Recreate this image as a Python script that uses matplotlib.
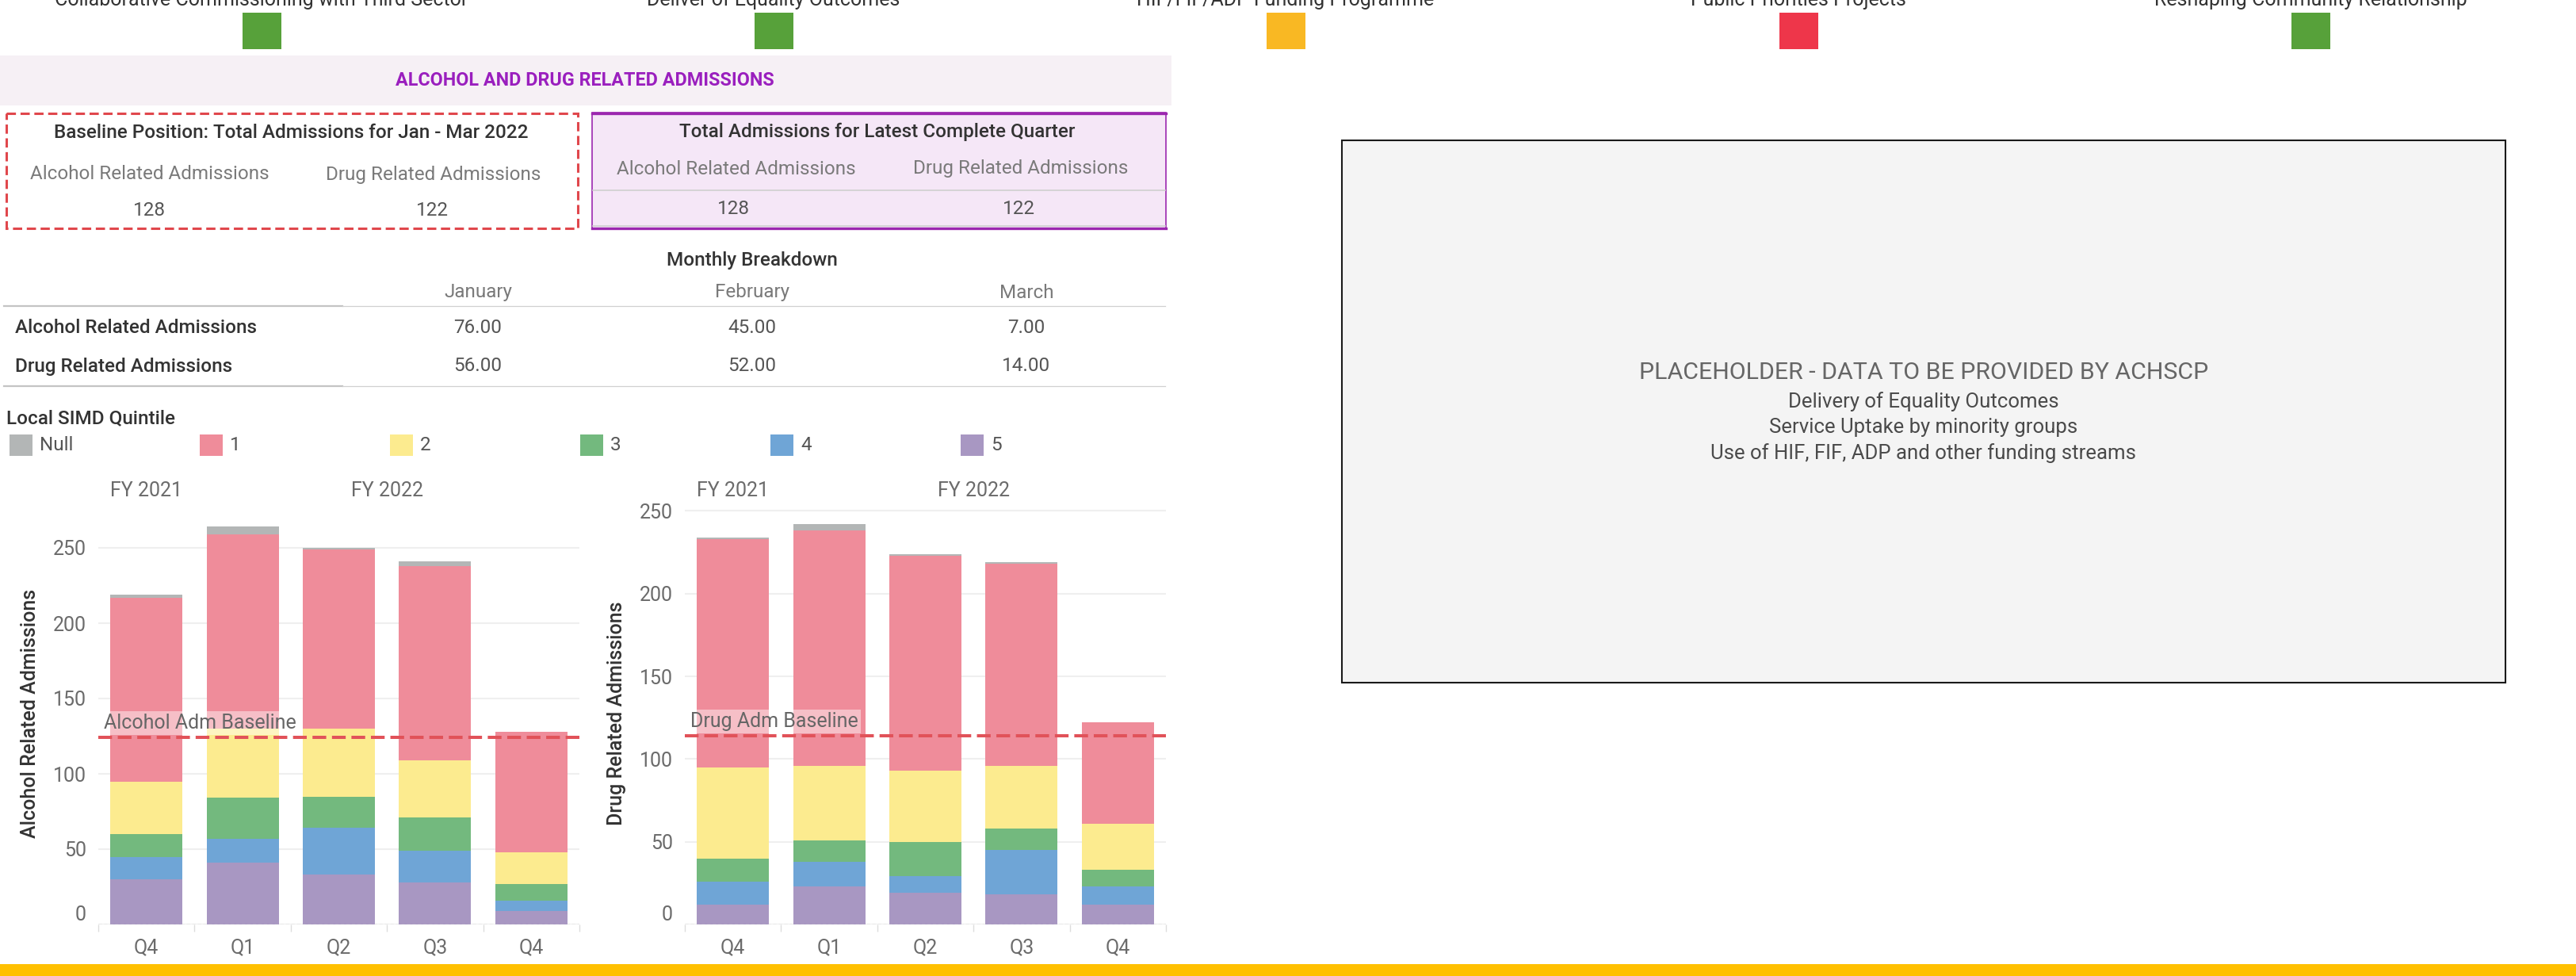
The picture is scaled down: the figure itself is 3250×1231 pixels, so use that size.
import numpy as np
import matplotlib
matplotlib.use("Agg")
import matplotlib.pyplot as plt
from matplotlib.patches import Rectangle

plt.rcParams['font.family'] = ['Roboto', 'DejaVu Sans']

# status tiles along the top
tile_labels = ["Collaborative Commissioning with Third Sector", "Deliver of Equality Outcomes",
               "HIF/FIF/ADP Funding Programme", "Public Priorities Projects",
               "Reshaping Community Relationship"]
tile_colors = ["#57A13A", "#57A13A", "#F9B823", "#EE364A", "#57A13A"]

# headline numbers
baseline_alcohol = 128
baseline_drug = 122
latest_alcohol = 128
latest_drug = 122

months = ["January", "February", "March"]
alcohol_monthly = [76, 45, 7]
drug_monthly = [56, 52, 14]

quarters = ["Q4", "Q1", "Q2", "Q3", "Q4"]
fiscal_years = ["FY 2021", "FY 2022"]
fy_quarters = [1, 4]

quintiles = ["Null", "1", "2", "3", "4", "5"]
quintile_colors = ["#B3B6B6", "#EF8C9A", "#FCEB8F", "#73B97E", "#6FA5D6", "#A897C2"]

# admissions per quarter by SIMD quintile
alcohol_null = [2, 5, 1, 3, 0]
alcohol_q1 = [122, 129, 119, 129, 80]
alcohol_q2 = [35, 46, 45, 38, 21]
alcohol_q3 = [15, 27, 21, 22, 11]
alcohol_q4 = [15, 16, 31, 21, 7]
alcohol_q5 = [30, 41, 33, 28, 9]
alcohol_baseline = 124

drug_null = [1, 4, 1, 1, 0]
drug_q1 = [138, 142, 130, 122, 61]
drug_q2 = [55, 45, 43, 38, 28]
drug_q3 = [14, 13, 21, 13, 10]
drug_q4 = [14, 15, 10, 27, 11]
drug_q5 = [12, 23, 19, 18, 12]
drug_baseline = 114

DARK = "#333333"
GREY = "#6b6b6b"
LIGHT = "#7a7a7a"
FS = 17.5

W, H = 3250, 1231
fig = plt.figure(figsize=(W / 100, H / 100), dpi=100)
bg = fig.add_axes([0, 0, 1, 1])
bg.set_xlim(0, W)
bg.set_ylim(H, 0)
bg.axis('off')


def px_axes(x0, y0, x1, y1):
    return fig.add_axes([x0 / W, 1 - y1 / H, (x1 - x0) / W, (y1 - y0) / H])


# top tiles (labels sit above the visible area, as in the dashboard)
tile_x = [330, 976, 1622, 2269, 2915]
for cx, lab, col in zip(tile_x, tile_labels, tile_colors):
    bg.text(cx, 7, lab, ha='center', va='baseline', fontsize=18, color=DARK)
    bg.add_patch(Rectangle((cx - 24.5, 16), 49, 46, fc=col, ec='none'))

# section header
bg.add_patch(Rectangle((0, 70), 1478, 63, fc='#F6F0F5', ec='none'))
bg.text(738, 101, "ALCOHOL AND DRUG RELATED ADMISSIONS", ha='center', va='center',
        fontsize=16.8, fontweight='bold', color='#9A1FBE')

# baseline box
bg.add_patch(Rectangle((8, 143), 721, 145, fill=False, ec='#E0474C', lw=2.2,
                       ls=(0, (3.8, 1.9))))
bg.text(367, 167, "Baseline Position: Total Admissions for Jan - Mar 2022", ha='center',
        va='center', fontsize=FS, color=DARK, fontweight='medium')
bg.text(189, 220, "Alcohol Related Admissions", ha='center', va='center', fontsize=FS, color=LIGHT)
bg.text(547, 220, "Drug Related Admissions", ha='center', va='center', fontsize=FS, color=LIGHT)
bg.text(188, 266, str(baseline_alcohol), ha='center', va='center', fontsize=FS, color='#555555')
bg.text(545, 266, str(baseline_drug), ha='center', va='center', fontsize=FS, color='#555555')

# latest quarter box
bg.add_patch(Rectangle((747, 142), 724, 147, fc='#F5E7F7', ec='#9B27AF', lw=1.2))
bg.plot([747, 1471], [143, 143], color='#9B27AF', lw=2.4)
bg.plot([747, 1471], [288, 288], color='#9B27AF', lw=2.4)
bg.plot([748, 1470], [240, 240], color='#cfcfcf', lw=1.2)
bg.plot([748, 1470], [285, 285], color='#cfcfcf', lw=1.2)
bg.text(1107, 166, "Total Admissions for Latest Complete Quarter", ha='center', va='center',
        fontsize=FS, color=DARK, fontweight='medium')
bg.text(929, 213, "Alcohol Related Admissions", ha='center', va='center', fontsize=FS, color=LIGHT)
bg.text(1288, 213, "Drug Related Admissions", ha='center', va='center', fontsize=FS, color=LIGHT)
bg.text(925, 263, str(latest_alcohol), ha='center', va='center', fontsize=FS, color='#555555')
bg.text(1285, 263, str(latest_drug), ha='center', va='center', fontsize=FS, color='#555555')

# monthly breakdown table
bg.text(949, 328, "Monthly Breakdown", ha='center', va='center', fontsize=FS, color=DARK,
        fontweight='medium')
col_x = [603, 949, 1295]
for cx, m in zip(col_x, months):
    bg.text(cx, 369, m, ha='center', va='center', fontsize=FS, color=LIGHT)
for yy in [386, 487]:
    bg.plot([5, 432], [yy, yy], color='#c4c4c4', lw=1.6)
    bg.plot([432, 1470], [yy, yy], color='#d0d0d0', lw=0.9)
for yy, name, vals in [(413, "Alcohol Related Admissions", alcohol_monthly),
                       (462, "Drug Related Admissions", drug_monthly)]:
    bg.text(19, yy, name, ha='left', va='center', fontsize=FS, color=DARK, fontweight='medium')
    for cx, v in zip(col_x, vals):
        bg.text(cx, yy, f"{v:.2f}", ha='center', va='center', fontsize=FS, color='#555555')

# legend
bg.text(8, 528, "Local SIMD Quintile", ha='left', va='center', fontsize=FS, color=DARK,
        fontweight='medium')
for i, (q, col) in enumerate(zip(quintiles, quintile_colors)):
    x0 = 12 + 240 * i
    bg.add_patch(Rectangle((x0, 548), 29, 27, fc=col, ec='none'))
    bg.text(x0 + 38, 562, q, ha='left', va='center', fontsize=FS, color='#555555')


def stacked_chart(ax, layers, baseline, base_label, ymax):
    x = np.arange(len(quarters))
    bottom = np.zeros(len(quarters))
    for vals, col in layers:
        ax.bar(x, vals, 0.75, bottom=bottom, color=col, zorder=2)
        bottom += np.array(vals)
    ax.set_xlim(-0.5, len(quarters) - 0.5)
    ax.set_ylim(0, ymax)
    ax.set_yticks(range(0, 251, 50))
    ax.yaxis.grid(True, color='#efefef', lw=1.5)
    ax.set_axisbelow(True)
    for s in ax.spines.values():
        s.set_visible(False)
    ax.set_xticks(x)
    ax.set_xticklabels(quarters)
    ax.set_xticks(np.arange(-0.5, len(quarters)), minor=True)
    ax.tick_params(axis='both', which='major', length=0, labelsize=18, labelcolor=GREY)
    ax.tick_params(axis='y', pad=11)
    ax.tick_params(axis='x', pad=12)
    ax.tick_params(axis='x', which='minor', length=6.5, width=1, color='#dddddd')
    ax.get_yticklabels()[0].set_va('bottom')
    ax.axhline(0, color='#c8c8c8', lw=1, ls=(0, (3, 2)), zorder=3)
    ax.axhline(baseline, color='#E15259', lw=2.9, ls=(0, (4.3, 1.8)), zorder=4)
    ax.annotate(base_label, xy=(0, baseline), xycoords=('axes fraction', 'data'),
                xytext=(5, 13), textcoords='offset points', ha='left', va='center',
                fontsize=18, color='#666666', zorder=5,
                bbox=dict(boxstyle='square,pad=0.12', fc='white', ec='none', alpha=0.45))
    # fiscal year headers
    start = 0
    for fy, n in zip(fiscal_years, fy_quarters):
        ax.text(start + (n - 1) / 2, 1.028, fy, transform=ax.get_xaxis_transform(),
                ha='center', va='center', fontsize=18, color=GREY)
        start += n


ax1 = px_axes(124, 634, 731, 1166)
stacked_chart(ax1, [(alcohol_q5, quintile_colors[5]), (alcohol_q4, quintile_colors[4]),
                    (alcohol_q3, quintile_colors[3]), (alcohol_q2, quintile_colors[2]),
                    (alcohol_q1, quintile_colors[1]), (alcohol_null, quintile_colors[0])],
              alcohol_baseline, "Alcohol Adm Baseline", 280)
bg.text(38, 900, "Alcohol Related Admissions", rotation=90, ha='center', va='center',
        fontsize=18, color=DARK, fontweight='medium')

ax2 = px_axes(864, 634, 1471, 1166)
stacked_chart(ax2, [(drug_q5, quintile_colors[5]), (drug_q4, quintile_colors[4]),
                    (drug_q3, quintile_colors[3]), (drug_q2, quintile_colors[2]),
                    (drug_q1, quintile_colors[1]), (drug_null, quintile_colors[0])],
              drug_baseline, "Drug Adm Baseline", 255)
bg.text(778, 900, "Drug Related Admissions", rotation=90, ha='center', va='center',
        fontsize=18, color=DARK, fontweight='medium')

# placeholder panel
bg.add_patch(Rectangle((1693, 177), 1468, 684, fc='#F4F4F4', ec='#1a1a1a', lw=1.5))
bg.text(2427, 470, "PLACEHOLDER - DATA TO BE PROVIDED BY ACHSCP", ha='center', va='center',
        fontsize=21.8, color='#666666')
for yy, line in [(507, "Delivery of Equality Outcomes"),
                 (539, "Service Uptake by minority groups"),
                 (572, "Use of HIF, FIF, ADP and other funding streams")]:
    bg.text(2427, yy, line, ha='center', va='center', fontsize=18.5, color='#4a4a4a')

# footer strip
bg.add_patch(Rectangle((0, 1216), W, 15, fc='#FFC000', ec='none'))

fig.savefig("out.png", dpi=100)
